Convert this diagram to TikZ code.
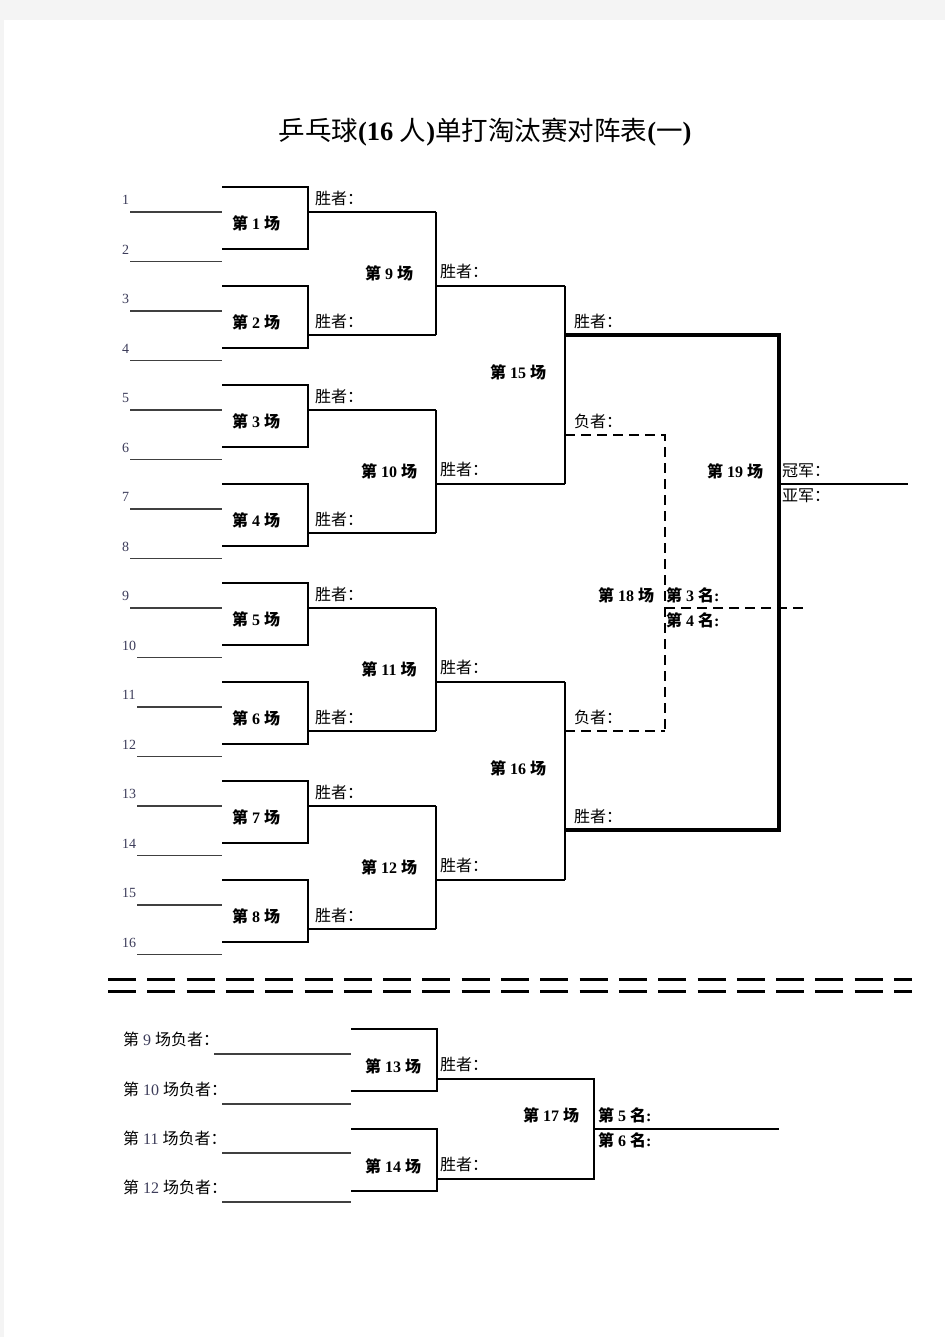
\documentclass[tikz,border=0pt]{standalone}
\usepackage{fontspec}
\setmainfont{Liberation Serif}
\newfontfamily\cjk{Noto Sans CJK SC}
\usetikzlibrary{positioning,calc}

\definecolor{pagegray}{RGB}{244,244,244}
\definecolor{numcol}{RGB}{60,60,90}
\newcommand\chang[1]{{\cjk\bfseries 第}\hspace{4pt}\textbf{#1}\hspace{4pt}{\cjk\bfseries 场}}
\newcommand\ming[1]{{\cjk\bfseries 第}\hspace{4pt}\textbf{#1}\hspace{4pt}{\cjk\bfseries 名}\textbf{:}}
\newcommand\fuzhe[1]{{\cjk 第}\hspace{4pt}{\color{numcol}#1}\hspace{4pt}{\cjk 场负者：}}

\begin{document}
\begin{tikzpicture}[x=1pt,y=-1pt,
    bracket/.style={line width=2.4pt},
    player/.style={line width=1.5pt,draw=black!75},
    win/.style={line width=1.8pt},
    final/.style={line width=3.6pt},
    lose/.style={line width=2.6pt,dash pattern=on 10pt off 6pt},
    cut/.style={line width=3pt,dash pattern=on 28pt off 11.3pt},
    chang/.style={inner sep=0pt,font=\fontsize{16}{16}\selectfont},
    sheng/.style={anchor=west,inner sep=0pt,font=\fontsize{16}{16}\selectfont\cjk},
    num/.style={anchor=west,inner sep=0pt,text=numcol,font=\fontsize{14}{14}\selectfont}]
    \useasboundingbox (0,0) rectangle (945,1337);
    \fill[pagegray] (0,0) rectangle (945,1337);
    \fill[white] (4,20) rectangle (945,1337);

    \node (title) at (485,132) {\fontsize{26.5}{26.5}\selectfont
      {\cjk 乒乓球}\textbf{(16} {\cjk 人}\textbf{)}{\cjk 单打淘汰赛对阵表}\textbf{(}{\cjk 一}\textbf{)}};

    % players
    \foreach \i in {1,...,16}{
      \pgfmathsetmacro\Y{212+49.5*(\i-1)}
      \pgfmathsetmacro\X{ifthenelse(\i<10,130,137)}
      \coordinate (p\i) at (\X,\Y);
      \coordinate (q\i) at (222,\Y);
      \draw[player] (p\i) -- (q\i);
      \node[num] (n\i) at (122,\Y-12) {\i};
    }

    % first round
    \foreach \k in {1,...,8}{
      \pgfmathsetmacro\T{187+99*(\k-1)}
      \coordinate (a\k) at (222,\T);
      \coordinate (b\k) at (308,\T);
      \coordinate (c\k) at (308,\T+62);
      \coordinate (d\k) at (222,\T+62);
      \draw[bracket] (a\k) -- (b\k) -- (c\k) -- (d\k);
      \node[chang] (m\k) at (256,\T+36) {\chang{\k}};
    }
    \foreach \k/\y in {1/212,2/335,3/410,4/533,5/608,6/731,7/806,8/929}{
      \coordinate (w\k) at (308,\y);
      \coordinate (v\k) at (436,\y);
      \draw[win] (w\k) -- (v\k);
      \node[sheng] (s\k) at (315,\y-14) {胜者：};
    }

    % second round
    \foreach \m/\y [count=\j from 9] in {1/286,2/484,3/682,4/880}{
      \pgfmathtruncatemacro\ka{2*\m-1}
      \pgfmathtruncatemacro\kb{2*\m}
      \draw[win] (v\ka) -- (v\kb);
      \coordinate (x\m) at (436,\y);
      \coordinate (y\m) at (565,\y);
      \draw[win] (x\m) -- (y\m);
      \node[sheng] (t\m) at (440,\y-15) {胜者：};
      \node[chang] (m\j) at ($(v\ka)!0.5!(v\kb)+(-47,0)$) {\chang{\j}};
    }

    % semi finals
    \coordinate (f1) at (565,335);
    \coordinate (f2) at (779,335);
    \coordinate (f3) at (565,830);
    \coordinate (f4) at (779,830);
    \coordinate (l1) at (565,435);
    \coordinate (l2) at (665,435);
    \coordinate (l3) at (565,731);
    \coordinate (l4) at (665,731);
    \draw[win] (y1) -- (y2);
    \draw[win] (y3) -- (y4);
    \draw[final] (f1) -- (f2) -- (f4) -- (f3);
    \draw[lose] (l1) -- (l2) -- (l4);
    \draw[lose] (l3) -- (l4);
    \node[chang] (m15) at (518,372) {\chang{15}};
    \node[chang] (m16) at (518,768) {\chang{16}};
    \node[sheng] (u1) at (574,321) {胜者：};
    \node[sheng] (u2) at (574,421) {负者：};
    \node[sheng] (u3) at (574,717) {负者：};
    \node[sheng] (u4) at (574,816) {胜者：};

    % final and third place
    \coordinate (g1) at (779,484);
    \coordinate (g2) at (908,484);
    \draw[win] (g1) -- (g2);
    \node[chang] (m19) at (735,471) {\chang{19}};
    \node[sheng] (gj) at (782,471) {冠军：};
    \node[sheng] (yj) at (782,496) {亚军：};
    \coordinate (h1) at (665,608);
    \coordinate (h2) at (808,608);
    \draw[lose] (h1) -- (h2);
    \node[chang] (m18) at (626,595) {\chang{18}};
    \node[chang,anchor=west] (r3) at (666,595) {\ming{3}};
    \node[chang,anchor=west] (r4) at (666,620) {\ming{4}};

    % cut line
    \coordinate (k1) at (108,979);
    \coordinate (k2) at (912,979);
    \coordinate (k3) at (108,991);
    \coordinate (k4) at (912,991);
    \draw[cut] (k1) -- (k2);
    \draw[cut] (k3) -- (k4);

    % 5th place
    \foreach \i/\x/\y [count=\j from 9] in {1/214/1054,2/222/1104,3/222/1153,4/222/1202}{
      \coordinate (e\i) at (\x,\y);
      \coordinate (o\i) at (351,\y);
      \draw[player] (e\i) -- (o\i);
      \node[sheng,font=\fontsize{16}{16}\selectfont] (z\i) at (123,\y-15) {\fuzhe{\j}};
    }
    \foreach \k/\T [count=\j from 13] in {1/1029,2/1129}{
      \coordinate (A\k) at (351,\T);
      \coordinate (B\k) at (437,\T);
      \coordinate (C\k) at (437,\T+62);
      \coordinate (D\k) at (351,\T+62);
      \draw[bracket] (A\k) -- (B\k) -- (C\k) -- (D\k);
      \node[chang] (m\j) at (393,\T+37) {\chang{\j}};
      \coordinate (W\k) at (437,\T+50);
      \coordinate (V\k) at (594,\T+50);
      \node[sheng] (S\k) at (440,\T+35) {胜者：};
    }
    \draw[win] (W1) -- (V1) -- (V2) -- (W2);
    \coordinate (R1) at (594,1129);
    \coordinate (R2) at (779,1129);
    \draw[win] (R1) -- (R2);
    \node[chang] (m17) at (551,1115) {\chang{17}};
    \node[chang,anchor=west] (r5) at (598,1115) {\ming{5}};
    \node[chang,anchor=west] (r6) at (598,1140) {\ming{6}};
\end{tikzpicture}
\end{document}
